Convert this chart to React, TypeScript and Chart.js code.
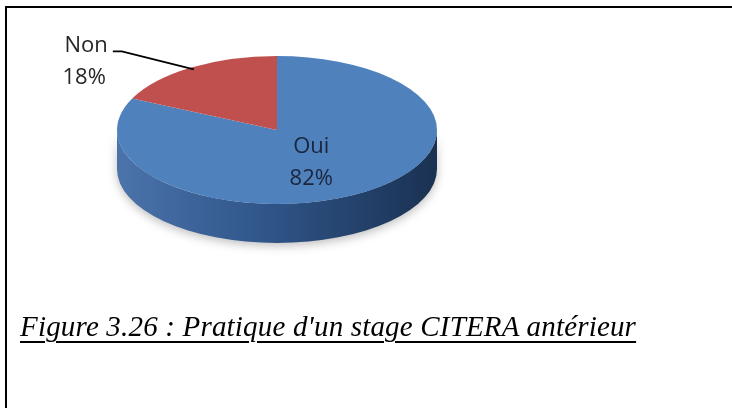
import React, { useEffect, useRef } from "react";
import { Chart, registerables } from "chart.js";

Chart.register(...registerables);

const categories = ["Oui", "Non"];
const values = [82, 18];
const percentLabels = ["82%", "18%"];
const topColors = ["#4f81bd", "#c0504d"];
const sideStops = [
  ["#4b74ab", "#30568a", "#1a3151"],
  ["#a5403d", "#8a3432", "#5e2220"],
];
const caption = "Figure 3.26 : Pratique d'un stage CITERA antérieur";

const TILT = 74 / 160;
const DEPTH = 39;

export default function App() {
  const ref = useRef<HTMLCanvasElement>(null);

  useEffect(() => {
    const canvas = ref.current;
    if (!canvas) return;
    const total = values.reduce((a, b) => a + b, 0);

    const getGeom = (chart: any, el: any) => {
      const p = el.getProps(["x", "y", "startAngle", "endAngle", "outerRadius"], true);
      const top = chart.chartArea.top;
      return { ...p, cy: top + (p.y - top) * TILT };
    };

    const pie3d = {
      id: "pie3d",
      beforeDatasetsDraw(chart: any) {
        const ctx = chart.ctx as CanvasRenderingContext2D;
        const top = chart.chartArea.top;
        const meta = chart.getDatasetMeta(0);
        ctx.save();
        meta.data.forEach((el: any, i: number) => {
          const g = getGeom(chart, el);
          const rx = g.outerRadius;
          const ry = g.outerRadius * TILT;
          const ranges = [
            [0, Math.PI],
            [2 * Math.PI, 3 * Math.PI],
          ];
          for (const [a, b] of ranges) {
            const s = Math.max(g.startAngle, a);
            const e = Math.min(g.endAngle, b);
            if (e <= s) continue;
            const grad = ctx.createLinearGradient(g.x - rx, 0, g.x + rx, 0);
            grad.addColorStop(0, sideStops[i][0]);
            grad.addColorStop(0.45, sideStops[i][1]);
            grad.addColorStop(1, sideStops[i][2]);
            ctx.beginPath();
            ctx.ellipse(g.x, g.cy, rx, ry, 0, s, e);
            ctx.ellipse(g.x, g.cy + DEPTH, rx, ry, 0, e, s, true);
            ctx.closePath();
            ctx.shadowColor = "rgba(0,0,0,0.25)";
            ctx.shadowBlur = 10;
            ctx.shadowOffsetY = 3;
            ctx.fillStyle = grad;
            ctx.fill();
          }
        });
        ctx.restore();
        ctx.save();
        ctx.translate(0, top);
        ctx.scale(1, TILT);
        ctx.translate(0, -top);
      },
      afterDatasetsDraw(chart: any) {
        const ctx = chart.ctx as CanvasRenderingContext2D;
        ctx.restore();
        const meta = chart.getDatasetMeta(0);
        ctx.save();
        ctx.font = '22px "Open Sans", sans-serif';
        ctx.textBaseline = "alphabetic";
        meta.data.forEach((el: any, i: number) => {
          const g = getGeom(chart, el);
          const mid = (g.startAngle + g.endAngle) / 2;
          const pt = (f: number) => ({
            x: g.x + Math.cos(mid) * g.outerRadius * f,
            y: g.cy + Math.sin(mid) * g.outerRadius * TILT * f,
          });
          if (values[i] / total > 0.3) {
            const p = pt(0.4);
            ctx.fillStyle = "#1a263b";
            ctx.textAlign = "center";
            ctx.fillText(categories[i], p.x, p.y - 2);
            ctx.fillText(percentLabels[i], p.x, p.y + 30);
          } else {
            const a = pt(0.97);
            const elbow = { x: a.x - 72, y: a.y - 18 };
            const end = { x: elbow.x - 9, y: elbow.y };
            ctx.strokeStyle = "#000";
            ctx.lineWidth = 1.8;
            ctx.beginPath();
            ctx.moveTo(a.x, a.y);
            ctx.lineTo(elbow.x, elbow.y);
            ctx.lineTo(end.x, end.y);
            ctx.stroke();
            ctx.fillStyle = "#262626";
            ctx.textAlign = "right";
            ctx.fillText(categories[i], end.x - 5, end.y + 1);
            ctx.fillText(percentLabels[i], end.x - 7, end.y + 33);
          }
        });
        ctx.restore();
      },
    };

    const chart = new Chart(canvas, {
      type: "pie",
      data: {
        labels: categories,
        datasets: [
          {
            data: values,
            backgroundColor: topColors,
            borderWidth: 0,
          },
        ],
      },
      options: {
        responsive: false,
        animation: false,
        layout: { padding: { left: 117, top: 56, right: 295, bottom: 32 } },
        plugins: {
          legend: { display: false },
          tooltip: { enabled: false },
        },
      },
      plugins: [pie3d],
    } as any);

    return () => chart.destroy();
  }, []);

  return (
    <div
      style={{
        position: "fixed",
        left: 0,
        top: 0,
        width: 732,
        height: 408,
        background: "#fff",
        overflow: "hidden",
      }}
    >
      <div
        style={{
          position: "absolute",
          left: 5,
          top: 6,
          width: 760,
          height: 430,
          borderTop: "2px solid #000",
          borderLeft: "2px solid #000",
        }}
      />
      <canvas
        ref={ref}
        width={732}
        height={408}
        style={{ position: "absolute", left: 0, top: 0, width: 732, height: 408 }}
      />
      <div
        style={{
          position: "absolute",
          left: 20,
          top: 312,
          fontFamily: '"Liberation Serif", "Times New Roman", serif',
          fontStyle: "italic",
          fontSize: 29,
          lineHeight: "29px",
          letterSpacing: "0.18px",
          color: "#000",
          whiteSpace: "nowrap",
          textDecoration: "underline",
          textDecorationThickness: "2px",
          textUnderlineOffset: "5px",
        }}
      >
        {caption}
      </div>
    </div>
  );
}
